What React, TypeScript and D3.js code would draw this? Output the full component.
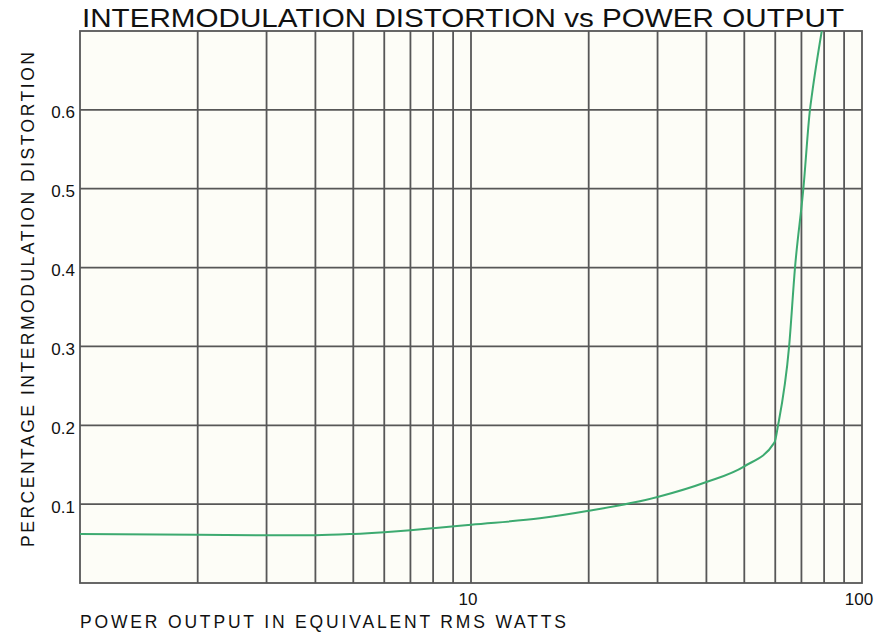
import React from "react";
import * as d3 from "d3";

// power output (W, rms) vs percentage IM distortion
const watts = [1, 2, 3, 4, 5, 6, 7, 8, 10, 15, 20, 30, 40, 50, 59.7, 61, 65.1, 67.4, 70.8, 73.6, 74.5, 78.9];
const distortion = [0.062, 0.0612, 0.0606, 0.0606, 0.0622, 0.0645, 0.067, 0.0695, 0.074, 0.082, 0.0915, 0.109, 0.128, 0.148, 0.178, 0.2, 0.3, 0.4, 0.5, 0.6, 0.62, 0.7];

const xTickLabels = [10, 100];
const yTickLabels = [0.1, 0.2, 0.3, 0.4, 0.5, 0.6];
const xGrid = [2, 3, 4, 5, 6, 7, 8, 9, 10, 20, 30, 40, 50, 60, 70, 80, 90];

const width = 896;
const height = 635;
const left = 80;
const right = 862;
const top = 31;
const bottom = 583;

const font = "'Liberation Sans', Arial, sans-serif";
const gridColor = "#575757";

const x = d3.scaleLog().domain([1, 100]).range([left, right]);
const y = d3.scaleLinear().domain([0, 0.7]).range([bottom, top]);

const line = d3
  .line<number>()
  .x((d) => x(d))
  .y((d, i) => y(distortion[i]))
  .curve(d3.curveMonotoneX);

const App = () => {
  return (
    <svg
      width={width}
      height={height}
      style={{ position: "absolute", left: 0, top: 0, background: "#fff" }}
    >
      <defs>
        <clipPath id="plot">
          <rect x={left} y={top} width={right - left} height={bottom - top} />
        </clipPath>
      </defs>
      <rect x={left} y={top} width={right - left} height={bottom - top} fill="#fdfdf7" />

      {xGrid.map((v) => (
        <line key={"x" + v} x1={x(v)} x2={x(v)} y1={top} y2={bottom} stroke={gridColor} strokeWidth={1.8} />
      ))}
      {yTickLabels.map((v) => (
        <line key={"y" + v} x1={left} x2={right} y1={y(v)} y2={y(v)} stroke={gridColor} strokeWidth={1.8} />
      ))}
      <rect
        x={left}
        y={top}
        width={right - left}
        height={bottom - top}
        fill="none"
        stroke={gridColor}
        strokeWidth={1.8}
      />

      <path
        d={line(watts) || ""}
        fill="none"
        stroke="#3daa70"
        strokeWidth={2}
        clipPath="url(#plot)"
      />

      {yTickLabels.map((v) => (
        <text key={"yl" + v} x={75} y={y(v) + 8.5} textAnchor="end" fontFamily={font} fontSize={17} fill="#111">
          {v.toFixed(1)}
        </text>
      ))}
      {xTickLabels.map((v) => (
        <text key={"xl" + v} x={x(v) - 3} y={605} textAnchor="middle" fontFamily={font} fontSize={17} fill="#111">
          {v}
        </text>
      ))}

      <text
        x={82}
        y={27}
        fontFamily={font}
        fontSize={25}
        fill="#111"
        textLength={762}
        lengthAdjust="spacingAndGlyphs"
      >
        INTERMODULATION DISTORTION vs  POWER OUTPUT
      </text>
      <text
        x={80}
        y={628}
        fontFamily={font}
        fontSize={17.5}
        fill="#111"
        textLength={486}
        lengthAdjust="spacing"
      >
        POWER OUTPUT IN EQUIVALENT RMS  WATTS
      </text>
      <text
        transform={`translate(33.5,547) rotate(-90)`}
        fontFamily={font}
        fontSize={17.5}
        fill="#111"
        textLength={495}
        lengthAdjust="spacing"
      >
        PERCENTAGE  INTERMODULATION  DISTORTION
      </text>
    </svg>
  );
};

export default App;
